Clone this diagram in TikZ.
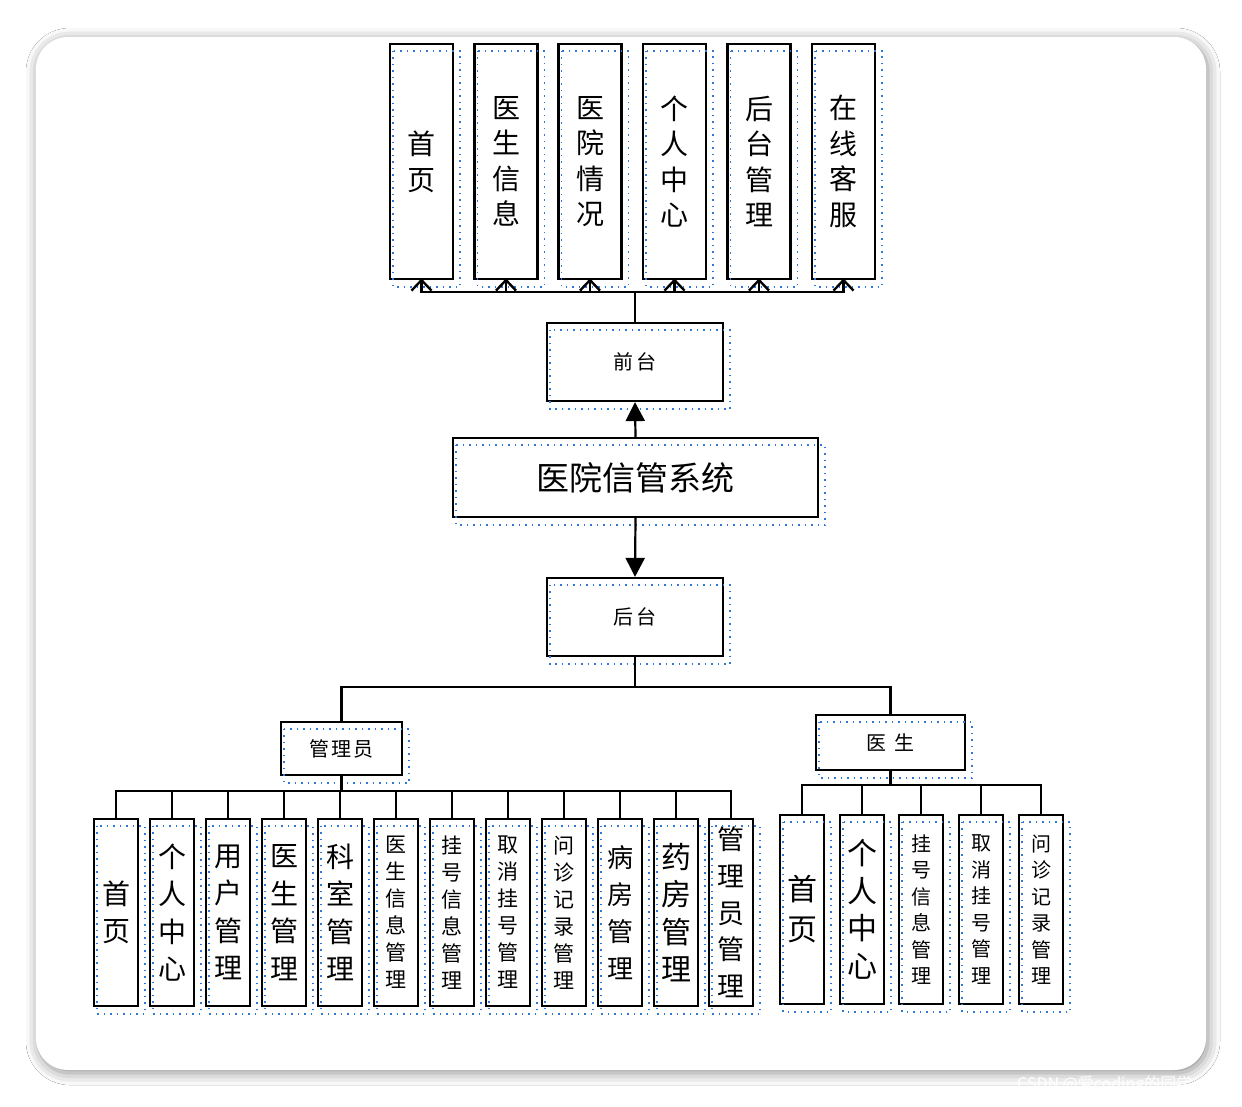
\documentclass[tikz,border=0pt]{standalone}
\usepackage{fontspec}
\newfontfamily\cjk{Noto Sans CJK SC}
\usetikzlibrary{arrows.meta,shadows.blur,calc}
\definecolor{dotblue}{HTML}{2F78D8}
\newcommand{\fs}[2]{\cjk\fontsize{#1}{#2}\selectfont}
\tikzset{
  box/.style={draw=black, line width=2.2pt, fill=white, inner sep=0pt, align=center},
  ln/.style={line width=2.2pt, black},
  barb/.style={line width=2.4pt, black, line join=miter},
  dots/.style={draw=dotblue, line width=1.5pt, dash pattern=on 1.5pt off 5pt},
  fillarr/.style={-{Triangle[length=19pt,width=19pt]}},
  topbox/.style={box, minimum width=63pt, minimum height=235pt},
  abox/.style={box, minimum width=44pt, minimum height=187pt},
  dbox/.style={box, minimum width=44pt, minimum height=189pt},
}
\begin{document}
\begin{tikzpicture}[x=1pt,y=-1pt]
\useasboundingbox (0,0) rectangle (1242,1106);
\fill[white] (0,0) rectangle (1242,1106);
% card
\fill[white, rounded corners=32pt, blur shadow={shadow xshift=2pt, shadow yshift=-3pt, shadow blur radius=12pt, shadow opacity=45}] (36,37) rectangle (1206,1070);
\node[font=\fs{16}{16}, text=white, anchor=west, inner sep=0pt] (wm) at (1017,1085) {CSDN @爱coding的同学};

% top boxes
\node[topbox, font=\fs{28}{36}] (t1) at (421.5,161.5) {首\\页};
\node[topbox, font=\fs{28}{35.5}] (t2) at (506,161.5) {医\\生\\信\\息};
\node[topbox, font=\fs{28}{35.5}] (t3) at (590,161.5) {医\\院\\情\\况};
\node[topbox, font=\fs{28}{35.5}] (t4) at (674.5,161.5) {个\\人\\中\\心};
\node[topbox, font=\fs{28}{35.5}] (t5) at (759,161.5) {后\\台\\管\\理};
\node[topbox, font=\fs{28}{35.5}] (t6) at (843.5,161.5) {在\\线\\客\\服};

% middle column
\node[box, minimum width=176pt, minimum height=78pt, font=\fs{20}{20}] (qt) at (635,362) {前\hspace{3pt}台};
\node[box, minimum width=365pt, minimum height=79pt, font=\fs{33}{33}] (main) at (635.5,477.5) {医院信管系统};
\node[box, minimum width=176pt, minimum height=78pt, font=\fs{20}{20}] (ht) at (635,617) {后\hspace{3pt}台};

\node[box, minimum width=121pt, minimum height=53pt, font=\fs{20}{20}] (gly) at (341.5,748.5) {管\hspace{2pt}理\hspace{2pt}员};
\node[box, minimum width=149pt, minimum height=55pt, font=\fs{20}{20}] (ys) at (890.5,742.5) {医\hspace{8pt}生};

% admin children
\node[abox, font=\fs{28}{37}] (a1) at (116,912.5) {首\\页};
\node[abox, font=\fs{28}{37.5}] (a2) at (172,912.5) {个\\人\\中\\心};
\node[abox, font=\fs{28}{37.5}] (a3) at (228,912.5) {用\\户\\管\\理};
\node[abox, font=\fs{28}{37.5}] (a4) at (284,912.5) {医\\生\\管\\理};
\node[abox, font=\fs{28}{37.5}] (a5) at (340,912.5) {科\\室\\管\\理};
\node[abox, font=\fs{21}{27}] (a6) at (396,912.5) {医\\生\\信\\息\\管\\理};
\node[abox, font=\fs{21}{27}] (a7) at (452,912.5) {挂\\号\\信\\息\\管\\理};
\node[abox, font=\fs{21}{27}] (a8) at (508,912.5) {取\\消\\挂\\号\\管\\理};
\node[abox, font=\fs{21}{27}] (a9) at (564,912.5) {问\\诊\\记\\录\\管\\理};
\node[abox, font=\fs{26}{37}] (a10) at (620,912.5) {病\\房\\管\\理};
\node[abox, font=\fs{30}{37.5}] (a11) at (676,912.5) {药\\房\\管\\理};
\node[abox, font=\fs{27}{36.7}] (a12) at (731,912.5) {管\\理\\员\\管\\理};

% doctor children
\node[dbox, font=\fs{30}{40}] (d1) at (802,909.5) {首\\页};
\node[dbox, font=\fs{30}{37.5}] (d2) at (862,909.5) {个\\人\\中\\心};
\node[dbox, font=\fs{20}{26.5}] (d3) at (921,909.5) {挂\\号\\信\\息\\管\\理};
\node[dbox, font=\fs{20}{26.5}] (d4) at (981,909.5) {取\\消\\挂\\号\\管\\理};
\node[dbox, font=\fs{20}{26.5}] (d5) at (1041,909.5) {问\\诊\\记\\录\\管\\理};

% dotted text-box frames
\foreach \n in {t1,t2,t3,t4,t5,t6,qt,main,ht,gly,ys,a1,a2,a3,a4,a5,a6,a7,a8,a9,a10,a11,a12,d1,d2,d3,d4,d5}{
  \draw[dots] ($(\n.north west)+(4,8)$) rectangle ($(\n.south east)+(6,7)$);
}

% connectors
\draw[ln] (qt.north) -- ++(0,-30) coordinate (jt);
\foreach \n in {t1,t2,t3,t4,t5,t6}{
  \draw[ln] (jt) -| (\n.south);
  \draw[barb] ($(\n.south)+(-10,10.5)$) -- (\n.south) -- ($(\n.south)+(10,10.5)$);
}
\draw[ln,fillarr] (main.north) -- (qt.south);
\draw[ln,fillarr] (main.south) -- (ht.north);
\draw[ln] (ht.south) -- ++(0,30) coordinate (jb);
\draw[ln] (jb) -| (gly.north);
\draw[ln] (jb) -| (ys.north);
\draw[ln] (gly.south) -- ++(0,15) coordinate (ja);
\foreach \n in {a1,a2,a3,a4,a5,a6,a7,a8,a9,a10,a11,a12}{\draw[ln] (ja) -| (\n.north);}
\draw[ln] (ys.south) -- ++(0,14) coordinate (jd);
\foreach \n in {d1,d2,d3,d4,d5}{\draw[ln] (jd) -| (\n.north);}
\end{tikzpicture}
\end{document}
